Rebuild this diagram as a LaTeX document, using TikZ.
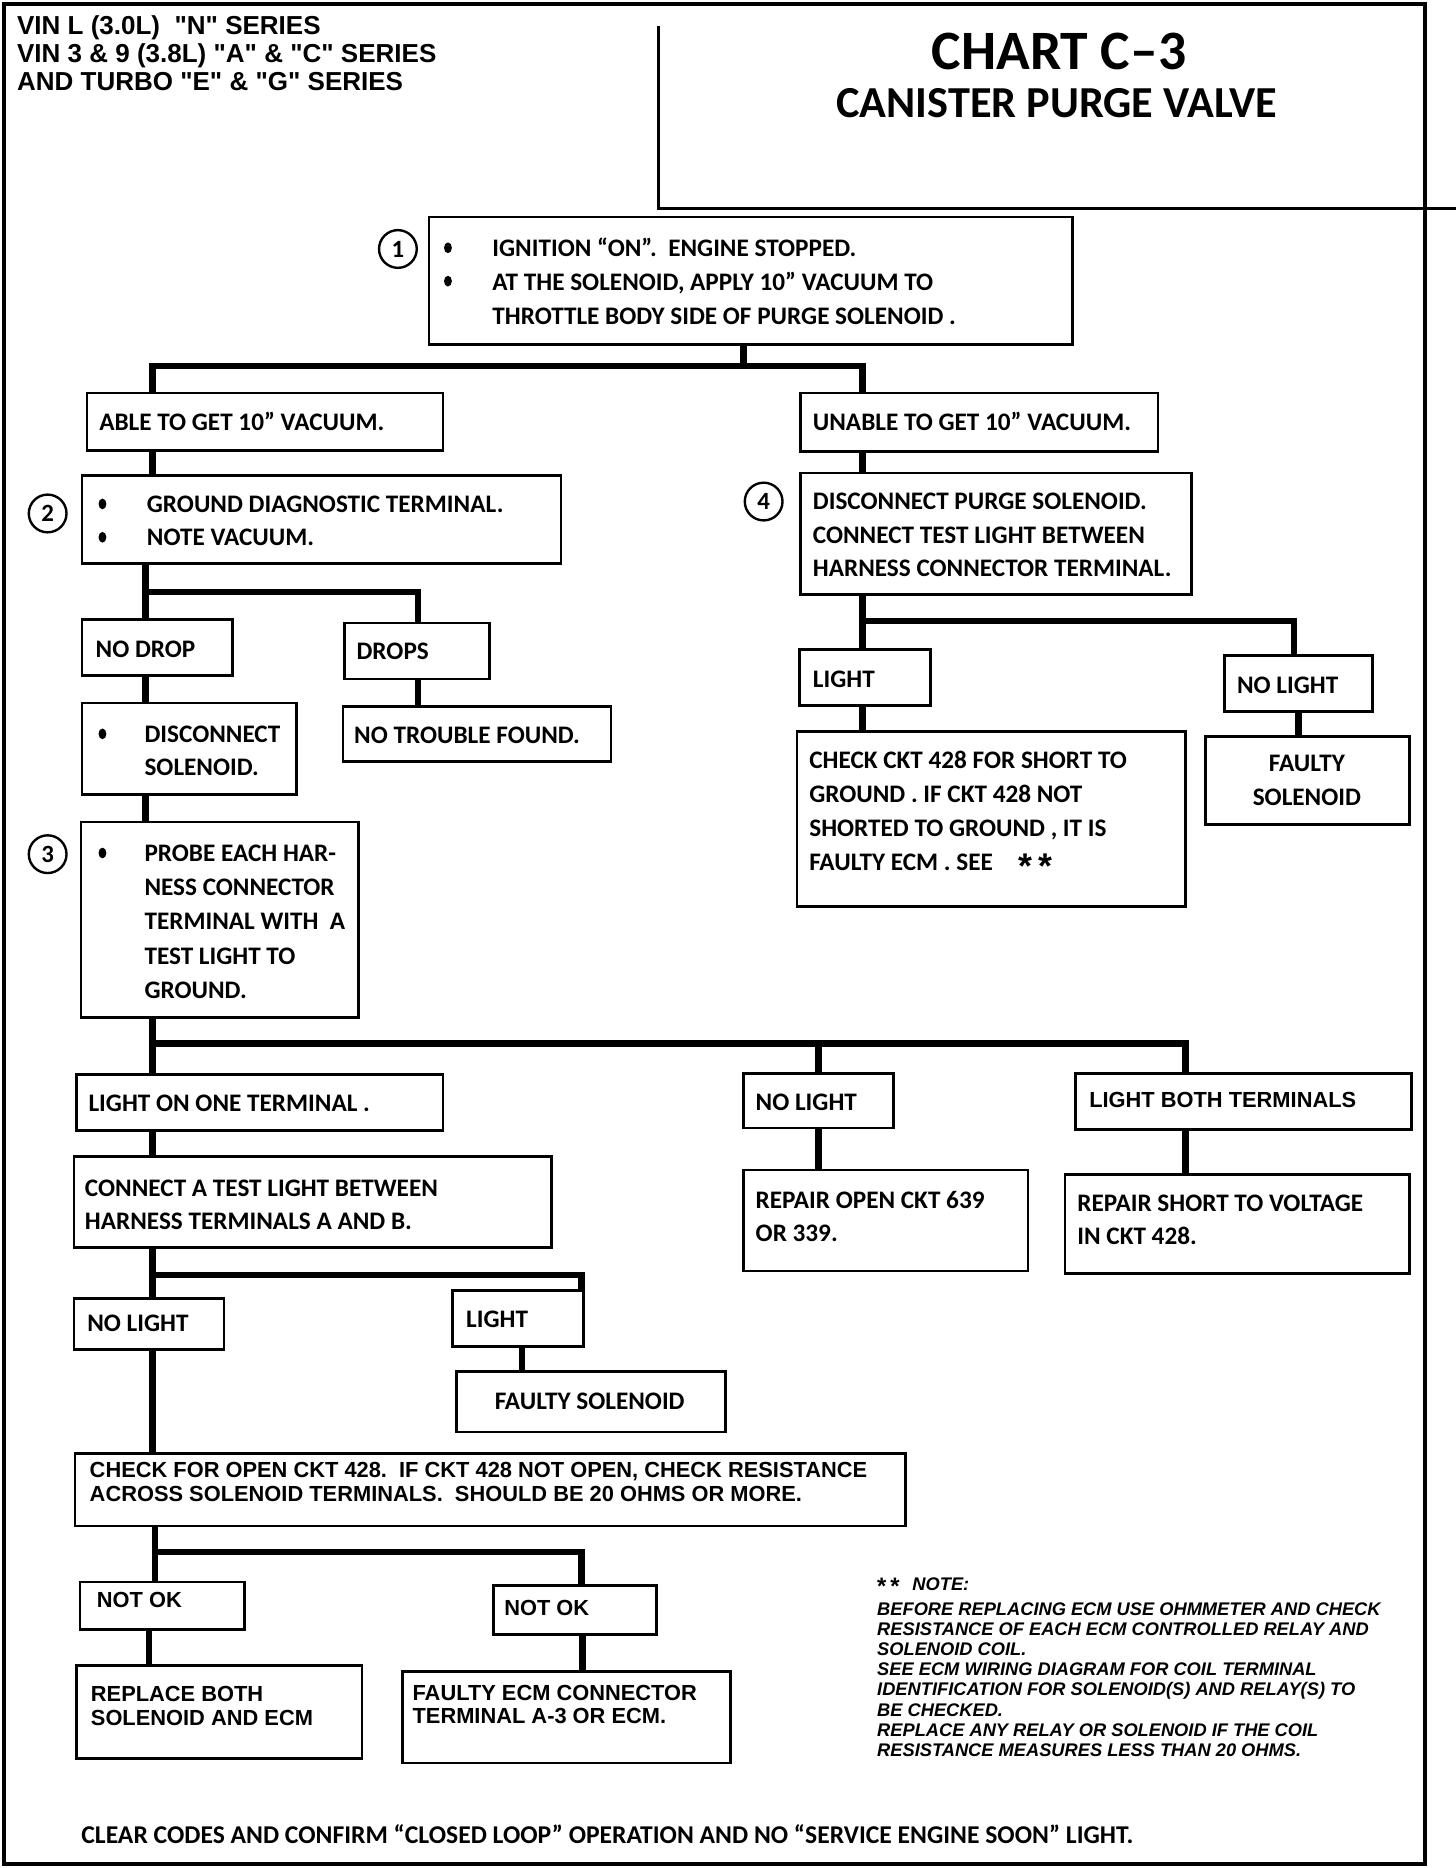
\documentclass[tikz,border=0pt]{standalone}
\usepackage{fontspec}
\setmainfont{Carlito}
\newfontfamily\arialf{Liberation Sans}
\newcommand\ml[1]{\begin{tabular}[t]{@{}l@{}}#1\end{tabular}}
\newcommand\mc[1]{\begin{tabular}[t]{@{}c@{}}#1\end{tabular}}
\newcommand\cbf{\fontsize{12.7}{17.1}\selectfont\bfseries}
\newcommand\abf{\arialf\fontsize{11}{12}\selectfont\bfseries}
\newcommand\mkbox[5]{\node[boxst, minimum width={(#4-#2)*0.6pt}, minimum height={(#5-#3)*0.6pt}] (#1) at ({(#2+#4)/2},{(#3+#5)/2}) {};}
\tikzset{
  boxst/.style={draw, line width=1.3pt, inner sep=0pt},
  conn/.style={line width=3.2pt},
  txt/.style={inner sep=0pt, anchor=base west, font=\cbf},
  atxt/.style={inner sep=0pt, anchor=base west, font=\abf},
  circ/.style={circle, draw, line width=1.2pt, minimum size=19pt, inner sep=0pt, font=\fontsize{12.5}{12.5}\selectfont\bfseries},
  frame/.style={line width=2pt},
  tline/.style={line width=1.4pt},
}
\begin{document}
\begin{tikzpicture}[x=0.6pt,y=-0.6pt]
\useasboundingbox (0,0) rectangle (1222,1568);
\draw[frame] (3,3) rectangle (1196,1565);

% header
\node[inner sep=0pt, anchor=base west, font=\arialf\fontsize{13.1}{14.1}\selectfont\bfseries] (hdr) at (14,29)
  {\ml{VIN L (3.0L)\ \ "N" SERIES\\VIN 3 \& 9 (3.8L) "A" \& "C" SERIES\\AND TURBO "E" \& "G" SERIES}};

% title block
\coordinate (tA) at (553,22);
\coordinate (tB) at (553,175);
\coordinate (tC) at (1222,175);
\draw[tline] (tA) -- (tB) -- (tC);
\node[anchor=base, inner sep=0pt, font=\fontsize{28}{28}\selectfont\bfseries] (title) at (889,58) {CHART C–3};
\node[anchor=base, inner sep=0pt, font=\fontsize{22.3}{22.3}\selectfont\bfseries] (subtitle) at (887,99) {CANISTER PURGE VALVE};

% boxes
\mkbox{b1}{360}{182}{900}{289}
\mkbox{able}{73}{330}{372}{378}
\mkbox{unable}{672}{330}{972}{379}
\mkbox{b2}{69}{399}{471}{473}
\mkbox{nodrop}{69}{520}{195}{567}
\mkbox{drops}{289}{523}{411}{570}
\mkbox{notrouble}{288}{593}{513}{639}
\mkbox{disc}{69}{590}{249}{667}
\mkbox{b3}{68}{690}{301}{854}
\mkbox{lone}{64}{902}{372}{949}
\mkbox{conab}{62}{971}{463}{1047}
\mkbox{nolA}{62}{1090}{188}{1133}
\mkbox{litA}{380}{1083}{490}{1130}
\mkbox{fsA}{383}{1151}{609}{1202}
\mkbox{chk}{63}{1220}{760}{1281}
\mkbox{nokA}{67}{1328}{205}{1368}
\mkbox{nokB}{414}{1331}{551}{1372}
\mkbox{repl}{64}{1398}{304}{1476}
\mkbox{fecm}{338}{1403}{613}{1480}
\mkbox{b4}{672}{397}{1000}{499}
\mkbox{litB}{671}{545}{781}{592}
\mkbox{nolB}{1028}{550}{1152}{597}
\mkbox{ckt}{669}{614}{995}{761}
\mkbox{fsB}{1012}{618}{1183}{692}
\mkbox{nolC}{624}{901}{750}{947}
\mkbox{ropen}{624}{982}{863}{1067}
\mkbox{lboth}{903}{901}{1185}{948}
\mkbox{rshort}{894}{986}{1183}{1069}

% step circles
\node[circ] (n1) at (334,209) {1};
\node[circ] (n2) at (40,431) {2};
\node[circ] (n3) at (40,717) {3};
\node[circ] (n4) at (641,421) {4};

% bullets
\fill (376,208) ellipse (3.3 and 4.5);
\fill (376,236) ellipse (3.3 and 4.5);
\fill (86,423) ellipse (3.3 and 4.5);
\fill (86,451) ellipse (3.3 and 4.5);
\fill (86,616) ellipse (3.3 and 4.5);
\fill (86,716) ellipse (3.3 and 4.5);

% texts
\node[txt] (t1) at (413,215) {\ml{IGNITION “ON”.\ \ ENGINE STOPPED.\\AT THE SOLENOID, APPLY 10” VACUUM TO\\THROTTLE BODY SIDE OF PURGE SOLENOID .}};
\node[txt] (table) at (83,361) {ABLE TO GET 10” VACUUM.};
\node[txt] (tunable) at (682,361) {UNABLE TO GET 10” VACUUM.};
\node[txt, font=\fontsize{12.7}{16.8}\selectfont\bfseries] (t2) at (123,430) {\ml{GROUND DIAGNOSTIC TERMINAL.\\NOTE VACUUM.}};
\node[txt] (tnodrop) at (80,552) {NO DROP};
\node[txt] (tdrops) at (299,554) {DROPS};
\node[txt] (tnotrouble) at (297,624) {NO TROUBLE FOUND.};
\node[txt, font=\fontsize{12.7}{16.8}\selectfont\bfseries] (tdisc) at (121,623) {\ml{DISCONNECT\\SOLENOID.}};
\node[txt, font=\fontsize{12.7}{17.25}\selectfont\bfseries] (t3) at (121,723) {\ml{PROBE EACH HAR-\\NESS CONNECTOR\\TERMINAL WITH\ \ A\\TEST LIGHT TO\\GROUND.}};
\node[txt] (tlone) at (74,933) {LIGHT ON ONE TERMINAL .};
\node[txt, font=\fontsize{12.7}{16.8}\selectfont\bfseries] (tconab) at (71,1004) {\ml{CONNECT A TEST LIGHT BETWEEN\\HARNESS TERMINALS A AND B.}};
\node[txt] (tnolA) at (73,1118) {NO LIGHT};
\node[txt] (tlitA) at (391,1114) {LIGHT};
\node[txt, anchor=base] (tfsA) at (495,1183) {FAULTY SOLENOID};
\node[atxt] (tchk) at (75,1240) {\ml{CHECK FOR OPEN CKT 428.\ \ IF CKT 428 NOT OPEN, CHECK RESISTANCE\\ACROSS SOLENOID TERMINALS.\ \ SHOULD BE 20 OHMS OR MORE.}};
\node[atxt] (tnokA) at (81,1349) {NOT OK};
\node[atxt] (tnokB) at (423,1356) {NOT OK};
\node[atxt] (trepl) at (76,1428) {\ml{REPLACE BOTH\\SOLENOID AND ECM}};
\node[atxt] (tfecm) at (346,1427) {\ml{FAULTY ECM CONNECTOR\\TERMINAL A-3 OR ECM.}};
\node[txt, font=\fontsize{12.7}{16.8}\selectfont\bfseries] (t4) at (682,428) {\ml{DISCONNECT PURGE SOLENOID.\\CONNECT TEST LIGHT BETWEEN\\HARNESS CONNECTOR TERMINAL.}};
\node[txt] (tlitB) at (682,577) {LIGHT};
\node[txt] (tnolB) at (1038,582) {NO LIGHT};
\node[txt, font=\fontsize{12.7}{17.2}\selectfont\bfseries] (tckt) at (679,645) {\ml{CHECK CKT 428 FOR SHORT TO\\GROUND . IF CKT 428 NOT\\SHORTED TO GROUND , IT IS\\FAULTY ECM . SEE\hspace{13pt}\raisebox{-4pt}{\arialf\fontsize{18}{18}\selectfont *\,*}}};
\node[txt, anchor=base, font=\fontsize{12.7}{16.8}\selectfont\bfseries] (tfsB) at (1097,648) {\mc{FAULTY\\SOLENOID}};
\node[txt] (tnolC) at (634,932) {NO LIGHT};
\node[txt, font=\fontsize{12.7}{16.8}\selectfont\bfseries] (tropen) at (634,1014) {\ml{REPAIR OPEN CKT 639\\OR 339.}};
\node[atxt] (tlboth) at (914,930) {LIGHT BOTH TERMINALS};
\node[txt, font=\fontsize{12.7}{16.8}\selectfont\bfseries] (trshort) at (904,1017) {\ml{REPAIR SHORT TO VOLTAGE\\IN CKT 428.}};

% note
\node[inner sep=0pt, anchor=base west, font=\arialf\fontsize{9.2}{10.14}\selectfont\bfseries\itshape] (tnote1) at (735,1335) {\raisebox{-2pt}{\fontsize{12}{12}\selectfont *\,*}\hspace{7pt}NOTE:};
\node[inner sep=0pt, anchor=base west, font=\arialf\fontsize{9.2}{10.14}\selectfont\bfseries\itshape] (tnote2) at (736,1356)
 {\ml{BEFORE REPLACING ECM USE OHMMETER AND CHECK\\RESISTANCE OF EACH ECM CONTROLLED RELAY AND\\SOLENOID COIL.\\SEE ECM WIRING DIAGRAM FOR COIL TERMINAL\\IDENTIFICATION FOR SOLENOID(S) AND RELAY(S) TO\\BE CHECKED.\\REPLACE ANY RELAY OR SOLENOID IF THE COIL\\RESISTANCE MEASURES LESS THAN 20 OHMS.}};

% bottom
\node[txt, font=\fontsize{12.9}{14}\selectfont\bfseries] (tbottom) at (68,1547) {CLEAR CODES AND CONFIRM “CLOSED LOOP” OPERATION AND NO “SERVICE ENGINE SOON” LIGHT.};

% junction coordinates
\coordinate (j1) at (624,307);
\coordinate (jA) at (128,307);
\coordinate (jB) at (724,307);
\coordinate (jC) at (122,497);
\coordinate (jD) at (351,497);
\coordinate (jE) at (128,876);
\coordinate (jF) at (687,876);
\coordinate (jG) at (995,876);
\coordinate (jH) at (128,1070);
\coordinate (jI) at (488,1070);
\coordinate (jJ) at (438,1140);
\coordinate (jK) at (130,1303);
\coordinate (jL) at (488,1303);
\coordinate (jM) at (125,1380);
\coordinate (jP) at (489,1380);
\coordinate (jN) at (724,521);
\coordinate (jO) at (1086,521);
\coordinate (jQ) at (1090,600);

% connectors
\draw[conn] (b1.south -| j1) -- (j1);
\draw[conn] (able.north -| jA) -- (jA) -- (jB) -- (unable.north -| jB);
\draw[conn] (able.south -| jA) -- (b2.north -| jA);
\draw[conn] (unable.south -| jB) -- (b4.north -| jB);
\draw[conn] (b2.south -| jC) -- (nodrop.north -| jC);
\draw[conn] (jC) -- (jD) -- (drops.north -| jD);
\draw[conn] (drops.south -| jD) -- (notrouble.north -| jD);
\draw[conn] (nodrop.south -| jC) -- (disc.north -| jC);
\draw[conn] (disc.south -| jC) -- (b3.north -| jC);
\draw[conn] (b3.south -| jE) -- (lone.north -| jE);
\draw[conn] (jE) -- (jG) -- (lboth.north -| jG);
\draw[conn] (jF) -- (nolC.north -| jF);
\draw[conn] (nolC.south -| jF) -- (ropen.north -| jF);
\draw[conn] (lboth.south -| jG) -- (rshort.north -| jG);
\draw[conn] (lone.south -| jE) -- (conab.north -| jE);
\draw[conn] (conab.south -| jH) -- (nolA.north -| jH);
\draw[conn] (jH) -- (jI) -- (litA.north -| jI);
\draw[conn] (litA.south -| jJ) -- (fsA.north -| jJ);
\draw[conn] (nolA.south -| jH) -- (chk.north -| jH);
\draw[conn] (chk.south -| jK) -- (nokA.north -| jK);
\draw[conn] (jK) -- (jL) -- (nokB.north -| jL);
\draw[conn] (nokA.south -| jM) -- (repl.north -| jM);
\draw[conn] (nokB.south -| jP) -- (fecm.north -| jP);
\draw[conn] (b4.south -| jN) -- (litB.north -| jN);
\draw[conn] (jN) -- (jO) -- (nolB.north -| jO);
\draw[conn] (litB.south -| jN) -- (ckt.north -| jN);
\draw[conn] (nolB.south -| jQ) -- (fsB.north -| jQ);
\end{tikzpicture}
\end{document}
